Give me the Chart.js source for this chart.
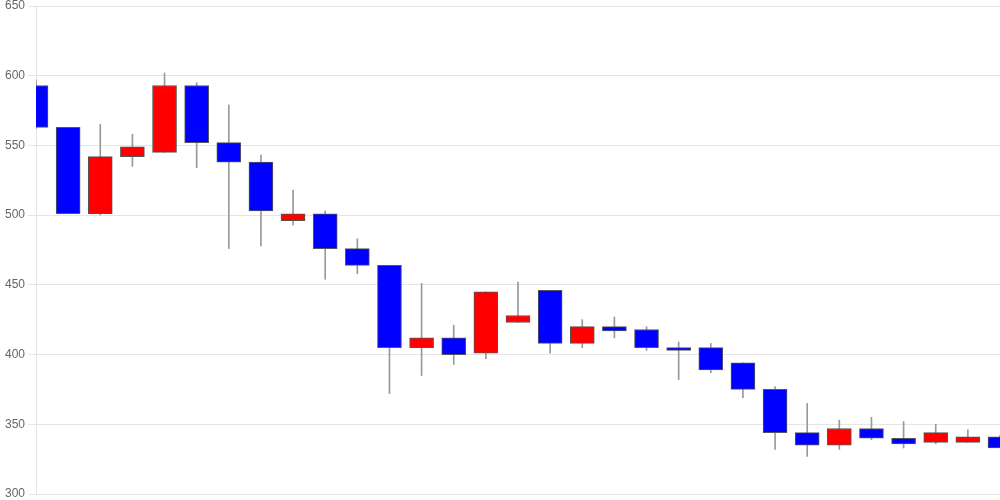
<!DOCTYPE html>
<html>
<head>
<meta charset="utf-8">
<script src="https://cdn.jsdelivr.net/npm/chart.js@4/dist/chart.umd.min.js"></script>
<style>
html,body{margin:0;padding:0;background:#fff;}
#wrap{width:1000px;height:500px;position:relative;}
</style>
</head>
<body>
<div id="wrap"><canvas id="c"></canvas></div>
<script>
const categories = ["1","2","3","4","5","6","7","8","9","10","11","12","13","14","15","16","17","18","19","20","21","22","23","24","25","26","27","28","29","30","31"];
const openValues  = [593,563,501,542,545,593,552,538,496,501,476,464,405,412,401,423,446,408,420,418,405,405,394,375,344,335,347,340,337,337,341];
const highValues  = [597,563,565,558,602,595,579,543,518,503,483,464,451,421,445,452,446,425,427,420,409,408,394,377,365,353,355,352,350,346,342];
const lowValues   = [562,501,500,535,545,534,476,478,493,454,458,372,385,393,397,423,401,405,412,403,382,387,369,332,327,332,339,333,336,337,333];
const closeValues = [563,501,542,549,593,552,538,503,501,476,464,405,412,400,445,428,408,420,417,405,403,389,375,344,335,347,340,336,344,341,333];
const yTicks = [300,350,400,450,500,550,600,650];

const bodies = openValues.map((o,i)=>[o, closeValues[i]]);
const wicks = lowValues.map((l,i)=>[l, highValues[i]]);
const bodyColors = openValues.map((o,i)=> closeValues[i] >= o ? '#ff0000' : '#0000ff');

new Chart(document.getElementById('c'), {
  type: 'bar',
  data: {
    labels: categories,
    datasets: [
      {
        label: 'wick',
        data: wicks,
        grouped: false,
        order: 2,
        barThickness: 1,
        backgroundColor: '#999999',
        borderWidth: 0
      },
      {
        label: 'body',
        data: bodies,
        grouped: false,
        order: 1,
        barThickness: 24,
        backgroundColor: bodyColors,
        borderColor: '#555555',
        borderWidth: 1,
        borderSkipped: false
      }
    ]
  },
  options: {
    responsive: true,
    maintainAspectRatio: false,
    animation: false,
    layout: { padding: 0 },
    plugins: { legend: { display: false }, tooltip: { enabled: false } },
    scales: {
      x: {
        display: false,
        offset: false,
        grid: { display: false }
      },
      y: {
        min: 300,
        max: 650,
        afterBuildTicks: (ax) => { ax.ticks = yTicks.map(v => ({ value: v })); },
        afterFit: (ax) => { ax.width = 36; ax.paddingTop = 6; ax.paddingBottom = 6; },
        ticks: { color: '#666', font: { size: 12 } },
        grid: { color: 'rgba(0,0,0,0.1)' },
        border: { display: true, color: 'rgba(0,0,0,0.1)' }
      }
    }
  }
});
</script>
</body>
</html>
